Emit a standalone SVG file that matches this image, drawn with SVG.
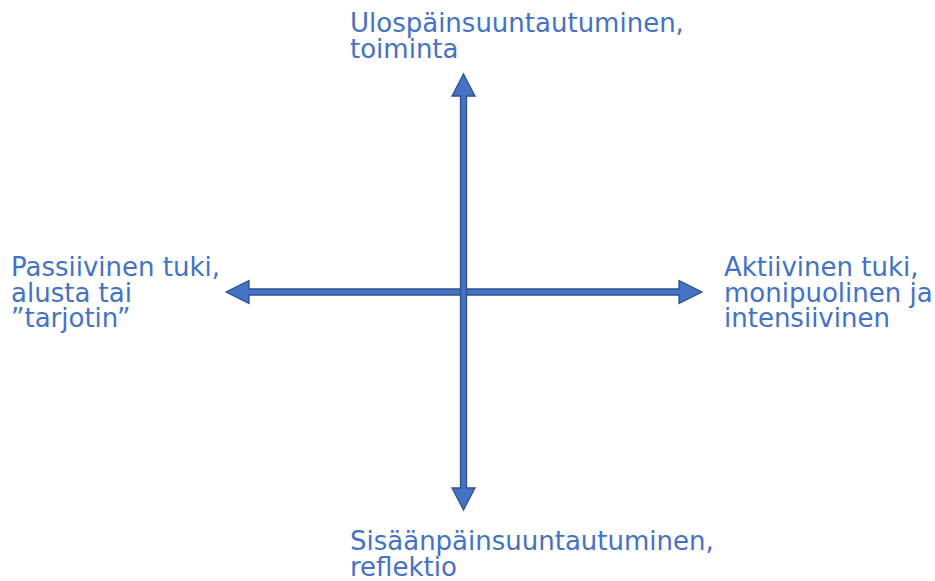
<svg xmlns="http://www.w3.org/2000/svg" width="935" height="581" viewBox="0 0 935 581">
<style>
.lbl{font-family:"DejaVu Sans","Verdana",sans-serif;font-size:26px;fill:#4472C4}
.arr{fill:#4472C4;stroke:#2F528F;stroke-width:1.3;stroke-linejoin:miter}
</style>
<rect width="935" height="581" fill="#fff"/>
<g id="connectors">
<polygon class="arr" points="226,292 249,280.5 249,289 679,289 679,280.5 702,292 679,303.5 679,295 249,295 249,303.5"/>
<polygon class="arr" points="463.5,74 475,96 466.5,96 466.5,488 475,488 463.5,510 452,488 460.5,488 460.5,96 452,96"/>
</g>
<g id="top"><text class="lbl" x="350" y="32">Ulospäinsuuntautuminen,<tspan x="350" y="57.5">toiminta</tspan></text></g>
<g id="left"><text class="lbl" x="11" y="276">Passiivinen tuki,<tspan x="11" y="301.5">alusta tai</tspan><tspan x="11" y="327">”tarjotin”</tspan></text></g>
<g id="right"><text class="lbl" x="724" y="276">Aktiivinen tuki,<tspan x="724" y="301.5">monipuolinen ja</tspan><tspan x="724" y="327">intensiivinen</tspan></text></g>
<g id="bottom"><text class="lbl" x="350" y="550">Sisäänpäinsuuntautuminen,<tspan x="350" y="575.5">reflektio</tspan></text></g>
</svg>
